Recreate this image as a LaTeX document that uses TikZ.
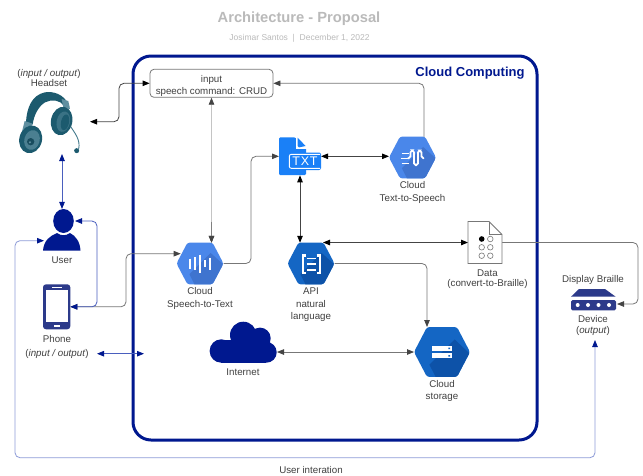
\documentclass[tikz,border=0pt]{standalone}
\usepackage{fontspec}
\setmainfont{Liberation Sans}
\usetikzlibrary{arrows.meta,calc}
\definecolor{navy}{HTML}{00188F}
\definecolor{indigo}{HTML}{2C3A8A}
\definecolor{lblue}{HTML}{8E9CD8}
\definecolor{mblue}{HTML}{4A5FBE}
\definecolor{gline}{HTML}{777777}
\definecolor{dline}{HTML}{444444}
\definecolor{lgline}{HTML}{C4C4C4}
\definecolor{txtc}{HTML}{404040}
\definecolor{teal1}{HTML}{1C5A6E}
\definecolor{teal2}{HTML}{5F8FA0}
\definecolor{hexa}{HTML}{4A87EA}
\definecolor{hexb}{HTML}{3F74CF}
\definecolor{hexc}{HTML}{1466C4}
\definecolor{hexd}{HTML}{0D52A8}
\definecolor{txtblue}{HTML}{1A80F7}
\tikzset{
  lbl/.style={inner sep=0pt,align=center,text=txtc,font=\fontsize{9.75}{12.5}\selectfont},
  icon/.style={inner sep=0pt,outer sep=0pt,minimum width=#1},
  conn/.style={line width=.8pt,rounded corners=5pt,draw=gline,>={Triangle[length=7pt,width=5.5pt,color=dline]}},
  conndark/.style={conn,draw=dline,>={Triangle[length=7pt,width=5.5pt,color=black]}},
  connblue/.style={line width=.8pt,rounded corners=5pt,draw=mblue,>={Triangle[length=7pt,width=5.5pt,color=navy]}},
  connlight/.style={connblue,draw=lblue},
  glyph/.style={white,line width=1.9pt},
}
% cx cy halfwidth inset light dark
\newcommand{\hexicon}[6]{%
  \begin{scope}
    \clip[rounded corners=2.5pt] (#1-#3,#2) -- (#1-#3+#4,#2-#3*0.89) -- (#1+#3-#4,#2-#3*0.89) -- (#1+#3,#2) -- (#1+#3-#4,#2+#3*0.89) -- (#1-#3+#4,#2+#3*0.89) -- cycle;
    \fill[#5] (#1-#3-2,#2-#3-2) rectangle (#1+#3+2,#2+#3+2);
    \fill[#6] (#1-#3*0.45,#2+#3*0.45) -- (#1+#3*0.45,#2-#3*0.45) -- (#1+#3+4,#2+#3*0.2) -- (#1+#3+4,#2+#3+4) -- (#1-#3*0.1,#2+#3+4) -- cycle;
  \end{scope}}
\begin{document}
\begin{tikzpicture}[x=1pt,y=-1pt]
\useasboundingbox (0,0) rectangle (643,475);
\fill[white] (0,0) rectangle (643,475);

% title
\node[inner sep=0pt,text=black!27,font=\fontsize{14.7}{16}\selectfont\bfseries] (title) at (299,19) {Architecture - Proposal};
\node[inner sep=0pt,text=black!27,font=\fontsize{8.5}{10}\selectfont] (sub) at (299.5,38) {Josimar Santos\ \ |\ \ December 1, 2022};

% cloud box
\node[draw=navy,line width=3pt,rounded corners=18pt,minimum width=404pt,minimum height=384pt,inner sep=0pt] (box) at (335,248) {};
\node[inner sep=0pt,text=navy,font=\fontsize{13}{14}\selectfont\bfseries] (boxt) at (470,73) {Cloud Computing};

% input box
\node[draw=gline,line width=.8pt,rounded corners=4pt,fill=white,minimum width=123pt,minimum height=28pt,inner sep=0pt,lbl] (input) at (211.5,83.3) {\rule{0pt}{12pt}input\\speech command: CRUD};

% invisible icon nodes (bounding boxes)
\node[icon=62pt,minimum height=66pt] (hs) at (51,121) {};
\node[icon=38pt,minimum height=41.5pt] (user) at (62,229.7) {};
\node[icon=27.3pt,minimum height=45pt] (phone) at (56.7,306.8) {};
\node[icon=47pt,minimum height=41.5pt] (speech) at (200,263.5) {};
\node[icon=47pt,minimum height=41.5pt] (t2s) at (412.5,157.5) {};
\node[icon=47pt,minimum height=41.5pt] (api) at (311,263.5) {};
\node[icon=56pt,minimum height=50pt] (storage) at (442,352) {};
\node[icon=42pt,minimum height=38pt] (txt) at (300,156.3) {};
\node[icon=34pt,minimum height=42pt] (data) at (485,242.5) {};
\node[icon=45pt,minimum height=21pt] (device) at (593.5,299.5) {};
\node[icon=68pt,minimum height=41pt] (internet) at (243,342.3) {};

% labels
\node[lbl,font=\fontsize{9.75}{10.2}\selectfont] (l1) at (49,78) {(\textit{input / output})\\Headset};
\node[lbl] (l2) at (62,260) {User};
\node[lbl] (l3) at (57,346.5) {Phone\\[1.5pt](\textit{input / output})};
\node[lbl] (l4) at (200,298.5) {Cloud\\Speech-to-Text};
\node[lbl] (l5) at (412.5,192.5) {Cloud\\Text-to-Speech};
\node[lbl] (l6) at (311,305) {API\\natural\\language};
\node[lbl] (l7) at (243,372.5) {Internet};
\node[lbl] (l8) at (442,391) {Cloud\\storage};
\node[lbl,font=\fontsize{9.75}{10.4}\selectfont] (l9) at (487.5,279) {Data\\(convert-to-Braille)};
\node[lbl] (l10) at (593,280) {Display Braille};
\node[lbl,font=\fontsize{9.75}{10.2}\selectfont] (l11) at (593,325.5) {Device\\(\textit{output})};
\node[lbl] (l12) at (311,470.5) {User interation};

% free ends
\coordinate (phoneArrowL) at (97,353.7);
\coordinate (phoneArrowR) at (144,353.7);
\coordinate (devArrow) at (595,340);
\coordinate (userHead) at (75,221);
\coordinate (userBody) at (44,240.7);
\coordinate (hsEnd) at (90,121.7);

% connectors
\draw[conndark,<->] (hsEnd) -- (119,121.7) -- (119,83.3) -- (input.west);
\draw[conn,draw=lgline,<->] (input.south) -- (input.south |- speech.north);
\draw[conn,draw=black!50,-{Triangle[length=7pt,width=5.5pt,color=dline]}] (input.south |- data.north) -- (input.south |- speech.north);
\draw[conn,->] ([xshift=11.5pt]t2s.north) |- (input.east);
\draw[conn,->] (speech.east) -- (251,263.5) -- (251,156.3) -- (txt.west);
\draw[conndark,<->] (txt.east) -- (txt.east -| t2s.west);
\draw[conndark,<->] (txt.south) -- (txt.south |- api.north);
\draw[conn,->] (api.east) -- (427,263.5) -- ([xshift=-15pt]storage.north);
\draw[conndark,<->] ([xshift=12pt]api.north |- data.west) -- (data.west);
\draw[conn,->] (data.east) -- (638,242.5) -- (638,304) -- ([yshift=-4.5pt,xshift=1pt]device.east);
\draw[conn,<->] (storage.west) -- (storage.west -| internet.east);
\draw[conn,<->] (phone.east) -- (126,306.8) -- (126,253.7) -- (180.7,253.7);
\draw[connblue,<->] (userHead) -- (97,221) -- (97,306.8) -- (phone.east);
\draw[connblue,<->] (user.north |- hs.south) -- (user.north);
\draw[connblue,<->] (phoneArrowL) -- (phoneArrowR);
\draw[connlight,<->] (userBody) -- (15,240.7) -- (15,457.7) -- (595,457.7) -- (devArrow);

% headset (drawn on zoomed grid)
\begin{scope}[shift={(10,85)},x=.3333pt,y=-.3333pt]
  \fill[teal1] (48,112) .. controls (50,70) and (65,30) .. (105,22) .. controls (125,18) and (165,25) .. (178,65) -- (162,62) .. controls (150,45) and (125,42) .. (105,52) .. controls (85,65) and (72,90) .. (68,118) -- cycle;
  \fill[teal2] (44,108) -- (68,116) -- (62,148) -- (36,140) -- cycle;
  \fill[teal2] (155,42) -- (175,48) -- (180,72) -- (160,68) -- cycle;
  \fill[teal1,rotate around={-15:(62,163)}] (62,163) ellipse (34 and 42);
  \fill[teal2!70!teal1,rotate around={-15:(66,165)}] (66,165) ellipse (23 and 30);
  \fill[teal1!85!black] (62,170) circle (11);
  \fill[teal2] (60,172) circle (3.5);
  \fill[teal1,rotate around={-12:(155,108)}] (155,108) ellipse (32 and 43);
  \fill[teal2!45!teal1,rotate around={-12:(160,110)}] (160,110) ellipse (20 and 31);
  \fill[teal1,rotate around={-12:(165,112)}] (165,112) ellipse (12 and 24);
  \draw[teal2!60!teal1,line width=.9pt] (182,125) .. controls (195,145) and (212,165) .. (206,192);
  \fill[teal1] (200,197) circle (7.5);
\end{scope}

% user
\fill[navy] (63.5,221) ellipse (10.3 and 12);
\fill[navy] (43,250.5) .. controls (44,240) and (50,236) .. (57,233) .. controls (61,236) and (66,236) .. (70,233) .. controls (76,236) and (80,242) .. (80.5,250.5) -- cycle;

% phone
\fill[indigo,rounded corners=3pt] (43,284.3) rectangle (70.3,329.3);
\fill[white] (46,290) rectangle (67.7,322);
\fill[white] (52,286.7) rectangle (62,288);
\fill[white] (54,324.7) rectangle (60,326.7);

% speech hexagon
\hexicon{200}{263.5}{23.5}{11}{hexa}{hexb}
\foreach \xx/\hh in {190/5,195/6.5,200/9,205/3.5,210/6}
  \draw[glyph] (\xx,263.5-\hh) -- (\xx,263.5+\hh);

% t2s hexagon
\hexicon{412.5}{157.5}{23.5}{11}{hexa}{hexb}
\draw[glyph,line width=1.6pt] (401.5,153.3) -- (408.5,153.3) (400.5,158.3) -- (408,158.3) (401.5,163.5) -- (408.5,163.5);
\draw[glyph,line width=1.7pt,rounded corners=1.9pt,line cap=round] (408,158.3) -- (410.5,158.3) -- (410.5,150.3) -- (414,150.3) -- (414,165.3) -- (418,165.3) -- (418,150.5) -- (421.5,150.5) -- (421.5,158.3) -- (423.5,158.3);

% api hexagon
\hexicon{311}{263.5}{23.5}{11}{hexc}{hexd}
\draw[glyph,line width=2.3pt] (306,255.5) -- (303.2,255.5) -- (303.2,273) -- (306,273);
\draw[glyph,line width=2.3pt] (316.5,255.5) -- (319.7,255.5) -- (319.7,273) -- (316.5,273);
\draw[glyph] (306.8,258.5) -- (316,258.5) (306.8,264.2) -- (316,264.2) (306.8,270) -- (316,270);

% storage hexagon
\hexicon{442}{352}{28}{13}{hexc}{hexd}
\fill[white] (432.3,346) rectangle (451.7,350.8);
\fill[white] (432.3,353.4) rectangle (451.7,358.2);
\fill[hexc] (448.4,347.7) rectangle (450,349.1) (448.4,355.1) rectangle (450,356.5);

% TXT file
\fill[txtblue,rounded corners=1.2pt] (279,137.3) -- (295,137.3) -- (306,148) -- (306,175) -- (279,175) -- cycle;
\fill[white] (296.3,137) -- (296.3,148.7) -- (306.5,148.7) -- (306.5,137) -- cycle;
\fill[txtblue] (297.6,137.6) -- (305.6,146) -- (299,147.4) -- (297.6,146) -- cycle;
\fill[txtblue,rounded corners=2pt] (287.5,152.5) rectangle (321,170);
\draw[white,line width=.9pt,rounded corners=2pt] (320,154.3) -- (289.3,154.3) -- (289.3,168.3) -- (320,168.3);
\node[inner sep=0pt,text=white,font=\fontsize{12.5}{13}\selectfont] (txtlabel) at (305,161.3) {T\kern.8pt X\kern.8pt T};

% data document
\draw[gline,line width=.8pt,fill=white] (468,221.5) -- (489,221.5) -- (502,234.5) -- (502,263.5) -- (468,263.5) -- cycle;
\draw[gline,line width=.7pt] (489,221.5) -- (489,234.5) -- (502,234.5);
\fill[black] (481.7,239) circle (2.8);
\draw[gline,line width=.6pt] (490.3,239) circle (2.8) (481.7,247.3) circle (2.8) (490.3,247.3) circle (2.8) (481.7,255.7) circle (2.8) (490.3,255.7) circle (2.8);

% braille device
\fill[indigo] (579,289) -- (605,289) -- (615.7,296.7) -- (571,296.7) -- cycle;
\fill[indigo,rounded corners=1.5pt] (571,300) rectangle (616,310.3);
\foreach \xx in {577.7,588,598.5,609} \fill[white] (\xx,305) circle (2);

% internet cloud
\fill[navy] (221.3,351) circle (11.7) (243.3,335) circle (13.3) (260,338.3) circle (10.7) (266.3,352.3) circle (10.4);
\fill[navy] (221.3,340) rectangle (266.3,362.7);
\end{tikzpicture}
\end{document}
